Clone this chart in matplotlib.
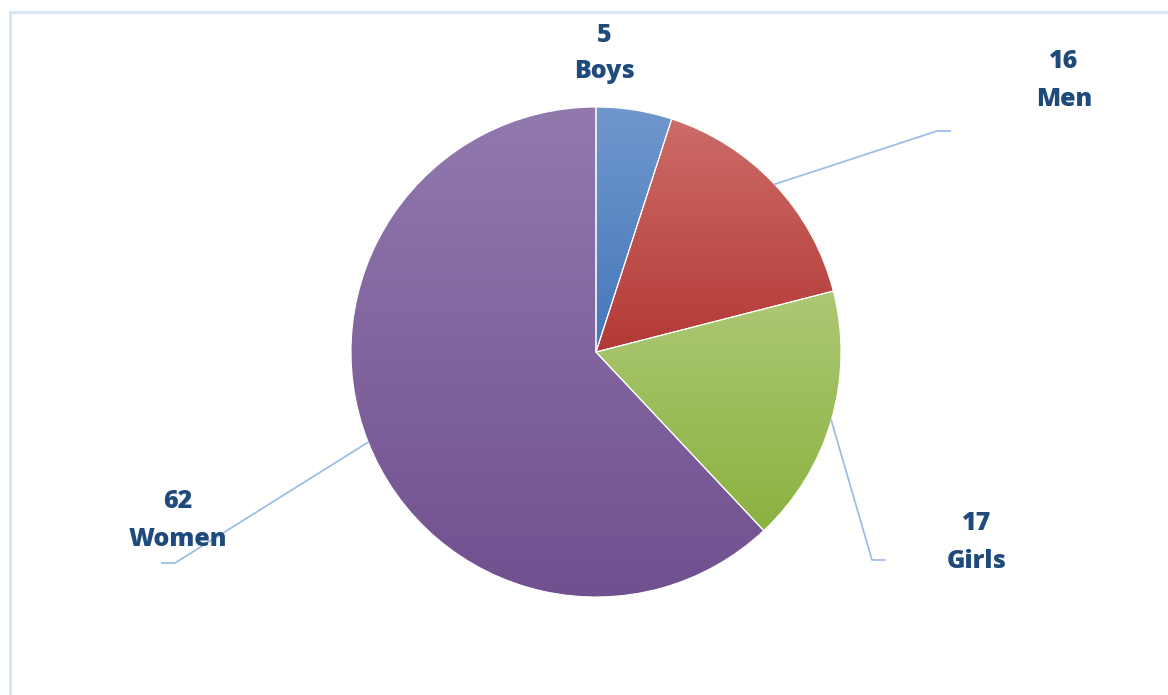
import numpy as np
import matplotlib.pyplot as plt
from matplotlib.colors import LinearSegmentedColormap

categories = ["Boys", "Men", "Girls", "Women"]
values = [5, 16, 17, 62]
# (top colour, bottom colour) for each slice gradient
grad_colors = [
    ("#6f97cc", "#4677bb"),
    ("#cd6c68", "#b33935"),
    ("#adc874", "#8ab23f"),
    ("#9179ae", "#71508f"),
]

W, H = 1168, 695
cx, cy, radius = 596, H - 352, 245
label_color = "#1f4a7c"
line_color = "#9dbfe6"

fig = plt.figure(figsize=(W / 100, H / 100), dpi=100)
ax = fig.add_axes([0, 0, 1, 1])
ax.set_xlim(0, W)
ax.set_ylim(0, H)
ax.set_aspect("equal")
ax.axis("off")

# light frame around the chart area
ax.plot([10, 10, W + 5], [-5, H - 12, H - 12], color="#dae6f5", lw=2.2, zorder=0)

wedges, _ = ax.pie(values, startangle=90, counterclock=False, center=(cx, cy),
                   radius=radius, frame=True,
                   wedgeprops=dict(linewidth=0.8, edgecolor="white"))

grad = np.linspace(0, 1, 256).reshape(-1, 1)
for w, (top, bottom) in zip(wedges, grad_colors):
    w.set_facecolor("none")
    bb = w.get_path().get_extents(w.get_patch_transform())
    cmap = LinearSegmentedColormap.from_list("g", [top, bottom])
    im = ax.imshow(grad, cmap=cmap, aspect="auto", origin="upper",
                   extent=[bb.x0, bb.x1, bb.y0, bb.y1], zorder=1)
    im.set_clip_path(w)
    w.set_zorder(2)

ax.set_xlim(0, W)
ax.set_ylim(0, H)

# label anchor positions (text centre) and leader-line elbows
label_pos = {"Boys": (604, H - 53), "Men": (1064, H - 80),
             "Girls": (977, H - 542), "Women": (178, H - 520)}
elbows = {"Men": ((937, H - 131), (950, H - 131)),
          "Girls": ((872, H - 560), (885, H - 560)),
          "Women": ((175, H - 563), (162, H - 563))}

for w, cat, val in zip(wedges, categories, values):
    ang = np.deg2rad((w.theta1 + w.theta2) / 2)
    sx, sy = cx + radius * np.cos(ang), cy + radius * np.sin(ang)
    if cat in elbows:
        (ex, ey), (fx, fy) = elbows[cat]
        ax.plot([sx, ex, fx], [sy, ey, fy], color=line_color, lw=1.3, zorder=3)
    lx, ly = label_pos[cat]
    ax.text(lx, ly + 18, str(val), ha="center", va="center", fontsize=18,
            fontweight="heavy", color=label_color, family="Open Sans")
    ax.text(lx, ly - 19, cat, ha="center", va="center", fontsize=18,
            fontweight="heavy", color=label_color, family="Open Sans")

fig.savefig("out.png", dpi=100)
